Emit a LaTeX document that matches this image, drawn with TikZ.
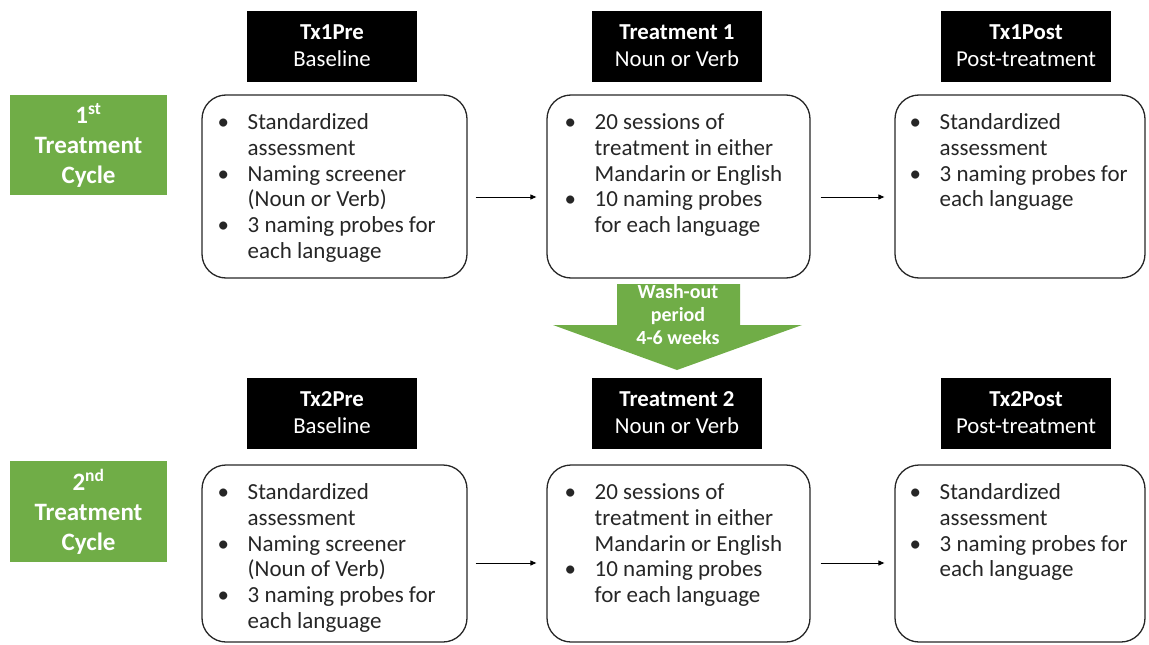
\documentclass[tikz,border=0pt]{standalone}
\usepackage{fontspec}
\setmainfont{Carlito}
\usetikzlibrary{arrows.meta}
\definecolor{cgreen}{HTML}{70AD47}
\newcommand\bitem{\makebox[30pt][l]{\textbullet}}
\newcommand\bcont{\hspace*{30pt}}
\newcommand\firstl{\rule{0pt}{18pt}}
\begin{document}
\begin{tikzpicture}[x=1pt,y=-1pt,
  hdr/.style={fill=black, text=white, font=\bfseries\fontsize{22.8}{27}\selectfont, align=center, minimum width=170pt, minimum height=71pt, inner sep=0pt},
  cyc/.style={fill=cgreen, text=white, font=\bfseries\fontsize{25}{30}\selectfont, align=center, minimum width=157pt, minimum height=100pt, inner sep=0pt},
  panel/.style={draw=black!85, line width=1.3pt, rounded corners=24pt, inner sep=0pt},
  body/.style={anchor=north west, inner sep=0pt, align=left, font=\fontsize{23}{25.7}\selectfont, text=black!85},
  wash/.style={text=white, font=\bfseries\fontsize{20}{23}\selectfont, align=center, inner sep=0pt},
  flow/.style={-{Triangle[length=6pt,width=5pt]}, line width=1pt, shorten <=8pt, shorten >=10pt}]
\useasboundingbox (0,0) rectangle (1149,645);

% cycle labels
\node[cyc] (c1) at (88.5,145) {1\textsuperscript{st}\\Treatment\\Cycle};
\node[cyc, minimum height=101pt] (c2) at (88.5,511.5) {2\textsuperscript{nd}\\Treatment\\Cycle};

% headers row 1
\node[hdr] (h1) at (332,46) {Tx1Pre\\{\mdseries Baseline}};
\node[hdr] (h2) at (677,46) {Treatment 1\\{\mdseries Noun or Verb}};
\node[hdr] (h3) at (1026,46) {Tx1Post\\{\mdseries Post-treatment}};
% headers row 2
\node[hdr] (k1) at (332,413) {Tx2Pre\\{\mdseries Baseline}};
\node[hdr] (k2) at (677,413) {Treatment 2\\{\mdseries Noun or Verb}};
\node[hdr] (k3) at (1026,413) {Tx2Post\\{\mdseries Post-treatment}};

% panels row 1
\node[panel, minimum width=265pt, minimum height=183pt] (b1) at (334.5,186.5) {};
\node[panel, minimum width=263pt, minimum height=183pt] (b2) at (678.5,186.5) {};
\node[panel, minimum width=250pt, minimum height=183pt] (b3) at (1020,186.5) {};
% panels row 2
\node[panel, minimum width=265pt, minimum height=177pt] (d1) at (334.5,553.5) {};
\node[panel, minimum width=263pt, minimum height=177pt] (d2) at (678.5,553.5) {};
\node[panel, minimum width=250pt, minimum height=177pt] (d3) at (1020,553.5) {};

% texts row 1
\node[body] (t1) at (217.5,111.5) {\firstl\bitem Standardized\\ \bcont assessment\\ \bitem Naming screener\\ \bcont (Noun or Verb)\\ \bitem 3 naming probes for\\ \bcont each language};
\node[body] (t2) at (564.5,111.5) {\firstl\bitem 20 sessions of\\ \bcont treatment in either\\ \bcont Mandarin or English\\ \bitem 10 naming probes\\ \bcont for each language};
\node[body] (t3) at (909.5,111.5) {\firstl\bitem Standardized\\ \bcont assessment\\ \bitem 3 naming probes for\\ \bcont each language};
% texts row 2
\node[body] (u1) at (217.5,481.5) {\firstl\bitem Standardized\\ \bcont assessment\\ \bitem Naming screener\\ \bcont (Noun of Verb)\\ \bitem 3 naming probes for\\ \bcont each language};
\node[body] (u2) at (564.5,481.5) {\firstl\bitem 20 sessions of\\ \bcont treatment in either\\ \bcont Mandarin or English\\ \bitem 10 naming probes\\ \bcont for each language};
\node[body] (u3) at (909.5,481.5) {\firstl\bitem Standardized\\ \bcont assessment\\ \bitem 3 naming probes for\\ \bcont each language};

% flow arrows
\draw[flow] ([yshift=-10.5pt]b1.east) -- ([yshift=-10.5pt]b2.west);
\draw[flow, shorten <=10pt] ([yshift=-10.5pt]b2.east) -- ([yshift=-10.5pt]b3.west);
\draw[flow] ([yshift=-9.5pt]d1.east) -- ([yshift=-9.5pt]d2.west);
\draw[flow, shorten <=10pt] ([yshift=-9.5pt]d2.east) -- ([yshift=-9.5pt]d3.west);

% wash-out arrow
\fill[cgreen] (617,284) -- (740,284) -- (740,325) -- (802,325) -- (677,370) -- (553,325) -- (617,325) -- cycle;
\node[wash] (wo) at (678,315) {Wash-out\\period\\4-6 weeks};
\end{tikzpicture}
\end{document}
